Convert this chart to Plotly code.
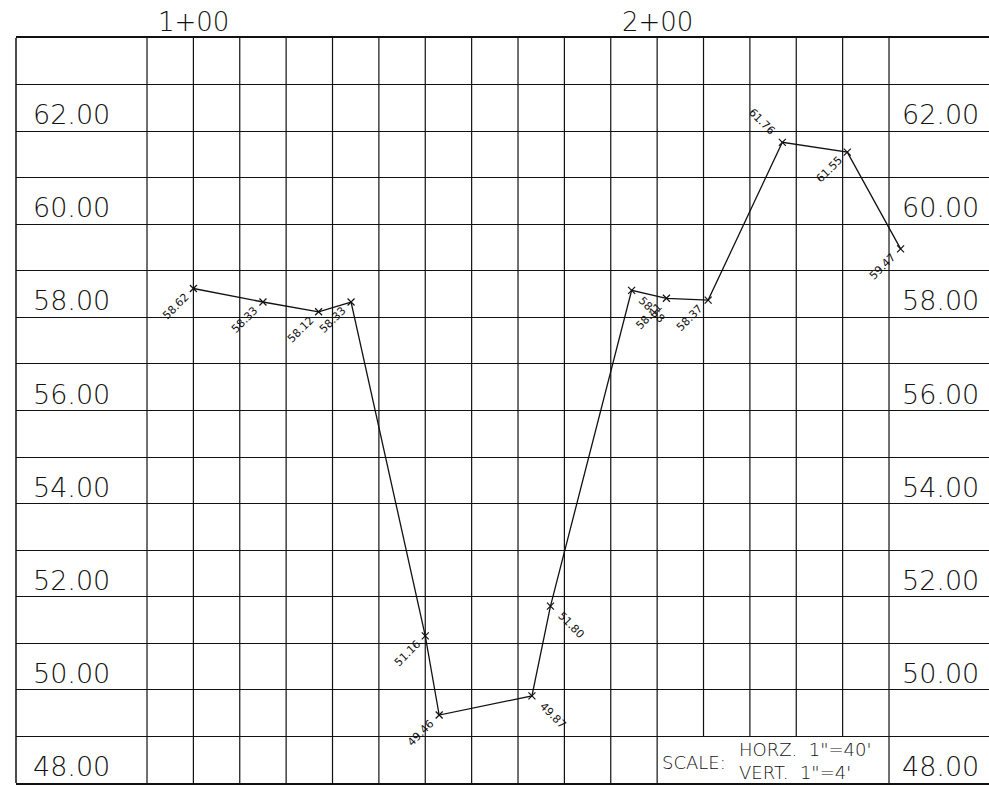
import plotly.graph_objects as go

# Profil en long : stations (pi) et cotes (pi)
stations   = [100, 115, 127, 134, 150, 153, 173, 177, 194.5, 202, 211, 227, 241, 252.5]
cotes      = [58.62, 58.33, 58.12, 58.33, 51.16, 49.46, 49.87, 51.80, 58.58, 58.41, 58.37, 61.76, 61.55, 59.47]
etiquettes = ["58.62", "58.33", "58.12", "58.33", "51.16", "49.46", "49.87", "51.80",
              "58.58", "58.41", "58.37", "61.76", "61.55", "59.47"]
# sens de l'étiquette : "up" = lue vers le haut et finit au point, "down" = part du point vers le bas
sens       = ["up", "up", "up", "up", "up", "up", "down", "down",
              "down", "up", "up", "before", "up", "up"]

elevations_lbl   = [62, 60, 58, 56, 54, 52, 50, 48]
stations_lbl     = [100, 200]
stations_lbl_txt = ["1+00", "2+00"]
grille_x         = list(range(90, 260, 10))

FONT  = "DejaVu Sans"
NOIR  = "#111111"

X_MIN, X_MAX = 61.75, 271.56
Y_MIN, Y_MAX = 48, 64

fig = go.Figure()

fig.add_trace(go.Scatter(
    x          = stations,
    y          = cotes,
    mode       = "lines+markers",
    line       = dict(color=NOIR, width=1.3),
    marker     = dict(symbol="x-thin", size=7, line=dict(color=NOIR, width=1.2)),
    showlegend = False,
    cliponaxis = False,
    hoverinfo  = "skip",
))

# lignes verticales de la grille (coupées au-dessus du cartouche d'échelle)
shapes = []
for sx in grille_x:
    y0 = 49 if 200 < sx < 250 else Y_MIN
    shapes.append(dict(type="line", x0=sx, x1=sx, y0=y0, y1=Y_MAX,
                       line=dict(color=NOIR, width=1.2), layer="below"))
# bord gauche
shapes.append(dict(type="line", xref="paper", x0=0, x1=0, yref="paper", y0=0, y1=1,
                   line=dict(color=NOIR, width=1.5)))

annotations = []
for e in elevations_lbl:
    for xc in (73.8, 261.2):
        annotations.append(dict(x=xc, y=e, text=f"{e:.2f}", showarrow=False,
                                xanchor="center", yanchor="bottom", yshift=-1,
                                font=dict(family=FONT, size=27, color=NOIR, weight=200)))
for s, t in zip(stations_lbl, stations_lbl_txt):
    annotations.append(dict(x=s, y=1, yref="paper", text=t, showarrow=False,
                            xanchor="center", yanchor="bottom", yshift=-1,
                            font=dict(family=FONT, size=26, color=NOIR, weight=200)))

for s, c, t, d in zip(stations, cotes, etiquettes, sens):
    if d == "up":
        ang, xa, ya, xs, ys = -45, "right", "top", 1, 1
    elif d == "down":
        ang, xa, ya, xs, ys = 45, "left", "top", 2, -1
    else:
        ang, xa, ya, xs, ys = 45, "right", "bottom", -2, 2
    annotations.append(dict(x=s, y=c, text=t, showarrow=False, textangle=ang,
                            xanchor=xa, yanchor=ya, xshift=xs, yshift=ys,
                            font=dict(family=FONT, size=11, color=NOIR)))

# cartouche d'échelle
annotations.append(dict(x=200.6, y=48.5, text="SCALE:", showarrow=False,
                        xanchor="left", yanchor="middle", yshift=-3,
                        font=dict(family=FONT, size=18, color=NOIR, weight=200)))
annotations.append(dict(x=217.2, y=48.5, text="HORZ.  1\"=40'<br>VERT.  1\"=4'", showarrow=False,
                        xanchor="left", yanchor="middle", align="left", yshift=-1,
                        font=dict(family=FONT, size=18, color=NOIR, weight=200)))

fig.update_layout(
    width         = 989,
    height        = 786,
    margin        = dict(l=16, r=0, t=38, b=3),
    paper_bgcolor = "white",
    plot_bgcolor  = "white",
    shapes        = shapes,
    annotations   = annotations,
    xaxis = dict(range=[X_MIN, X_MAX], showgrid=False, zeroline=False,
                 showticklabels=False, ticks="", showline=True, mirror=True,
                 linecolor=NOIR, linewidth=1.5),
    yaxis = dict(range=[Y_MIN, Y_MAX], dtick=1, tick0=48, showgrid=True,
                 gridcolor=NOIR, gridwidth=1.2, zeroline=False,
                 showticklabels=False, ticks="", showline=False),
)

fig.write_html("out.html", config={"displayModeBar": False},
               post_script="document.body.style.margin='0px';")
